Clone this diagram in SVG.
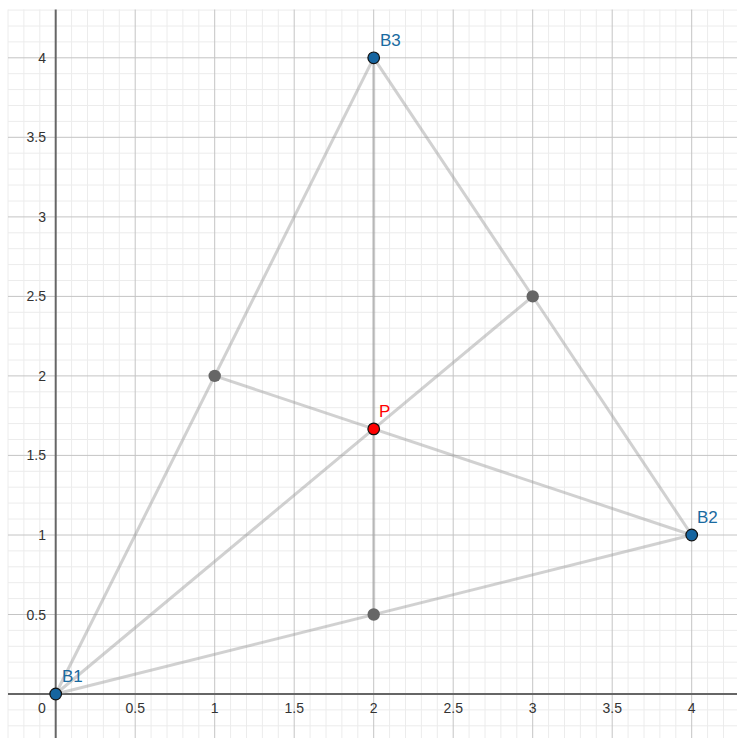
<svg xmlns="http://www.w3.org/2000/svg" width="737" height="738" viewBox="0 0 737 738">
<style>
.minor{stroke:#ececec;stroke-width:1;fill:none}
.major{stroke:#c4c4c4;stroke-width:1;fill:none}
.axis{stroke:#666;stroke-width:2;fill:none}
.tick{font-family:"Liberation Sans",Arial,sans-serif;font-size:14px;fill:#333}
.seg{stroke:#999;stroke-opacity:0.45;stroke-width:3;fill:none;stroke-linecap:round}
.bpt{fill:#1665a0;stroke:#111;stroke-width:1.2}
.ppt{fill:#f00;stroke:#111;stroke-width:1.2}
.mid{fill:#666}
.lbl{font-family:"Liberation Sans",Arial,sans-serif;font-size:17px;fill:#1a6aa0}
.plbl{font-family:"Liberation Sans",Arial,sans-serif;font-size:17px;fill:#f00}
</style>
<rect width="737" height="738" fill="#fff"/>
<g id="grid">
<path class="minor" d="M8 9.5V738M23.9 9.5V738M39.8 9.5V738M71.6 9.5V738M87.5 9.5V738M103.4 9.5V738M119.3 9.5V738M151.1 9.5V738M167 9.5V738M182.9 9.5V738M198.8 9.5V738M230.6 9.5V738M246.5 9.5V738M262.4 9.5V738M278.3 9.5V738M310.1 9.5V738M326 9.5V738M341.9 9.5V738M357.8 9.5V738M389.6 9.5V738M405.5 9.5V738M421.4 9.5V738M437.3 9.5V738M469.1 9.5V738M485 9.5V738M500.9 9.5V738M516.8 9.5V738M548.6 9.5V738M564.5 9.5V738M580.4 9.5V738M596.3 9.5V738M628.1 9.5V738M644 9.5V738M659.9 9.5V738M675.8 9.5V738M707.6 9.5V738M723.5 9.5V738"/>
<path class="minor" d="M8 725.8H737M8 709.9H737M8 678.1H737M8 662.2H737M8 646.3H737M8 630.4H737M8 598.6H737M8 582.7H737M8 566.8H737M8 550.9H737M8 519H737M8 503.1H737M8 487.2H737M8 471.3H737M8 439.5H737M8 423.6H737M8 407.7H737M8 391.8H737M8 360H737M8 344.1H737M8 328.2H737M8 312.3H737M8 280.5H737M8 264.6H737M8 248.7H737M8 232.8H737M8 201H737M8 185H737M8 169.1H737M8 153.2H737M8 121.4H737M8 105.5H737M8 89.6H737M8 73.7H737M8 41.9H737M8 26H737M8 10.1H737"/>
<path class="major" d="M135.2 9.5V738M214.7 9.5V738M294.2 9.5V738M373.7 9.5V738M453.2 9.5V738M532.7 9.5V738M612.2 9.5V738M691.7 9.5V738"/>
<path class="major" d="M8 614.5H737M8 535H737M8 455.4H737M8 375.9H737M8 296.4H737M8 216.9H737M8 137.3H737M8 57.8H737"/>
<path class="axis" d="M55.7 9.5V738M8 694H737"/>
</g>
<g id="ticks" class="tick">
<g text-anchor="end">
<text x="46" y="619.5">0.5</text>
<text x="46" y="540">1</text>
<text x="46" y="460.4">1.5</text>
<text x="46" y="380.9">2</text>
<text x="46" y="301.4">2.5</text>
<text x="46" y="221.9">3</text>
<text x="46" y="142.3">3.5</text>
<text x="46" y="62.8">4</text>
</g>
<text x="42" y="713" text-anchor="middle">0</text>
<g text-anchor="middle">
<text x="135.2" y="713">0.5</text>
<text x="214.7" y="713">1</text>
<text x="294.2" y="713">1.5</text>
<text x="373.7" y="713">2</text>
<text x="453.2" y="713">2.5</text>
<text x="532.7" y="713">3</text>
<text x="612.2" y="713">3.5</text>
<text x="691.7" y="713">4</text>
</g>
</g>
<g id="connectors">
<line class="seg" x1="55.7" y1="694" x2="373.7" y2="57.8"/>
<line class="seg" x1="373.7" y1="57.8" x2="691.7" y2="535"/>
<line class="seg" x1="691.7" y1="535" x2="55.7" y2="694"/>
<line class="seg" x1="55.7" y1="694" x2="532.7" y2="296.4"/>
<line class="seg" x1="691.7" y1="535" x2="214.7" y2="375.9"/>
<line class="seg" x1="373.7" y1="57.8" x2="373.7" y2="614.5"/>
</g>
<g id="M1"><circle class="mid" cx="214.7" cy="375.9" r="6.2"/></g>
<g id="M2"><circle class="mid" cx="532.7" cy="296.4" r="6.2"/></g>
<g id="M3"><circle class="mid" cx="373.7" cy="614.5" r="6.2"/></g>
<g id="B1"><circle class="bpt" cx="55.7" cy="694" r="5.8"/><text class="lbl" x="62" y="682">B1</text></g>
<g id="B2"><circle class="bpt" cx="691.7" cy="535" r="5.8"/><text class="lbl" x="697" y="523">B2</text></g>
<g id="B3"><circle class="bpt" cx="373.7" cy="57.8" r="5.8"/><text class="lbl" x="380" y="46">B3</text></g>
<g id="P"><circle class="ppt" cx="373.7" cy="428.9" r="5.8"/><text class="plbl" x="379" y="417">P</text></g>
</svg>
